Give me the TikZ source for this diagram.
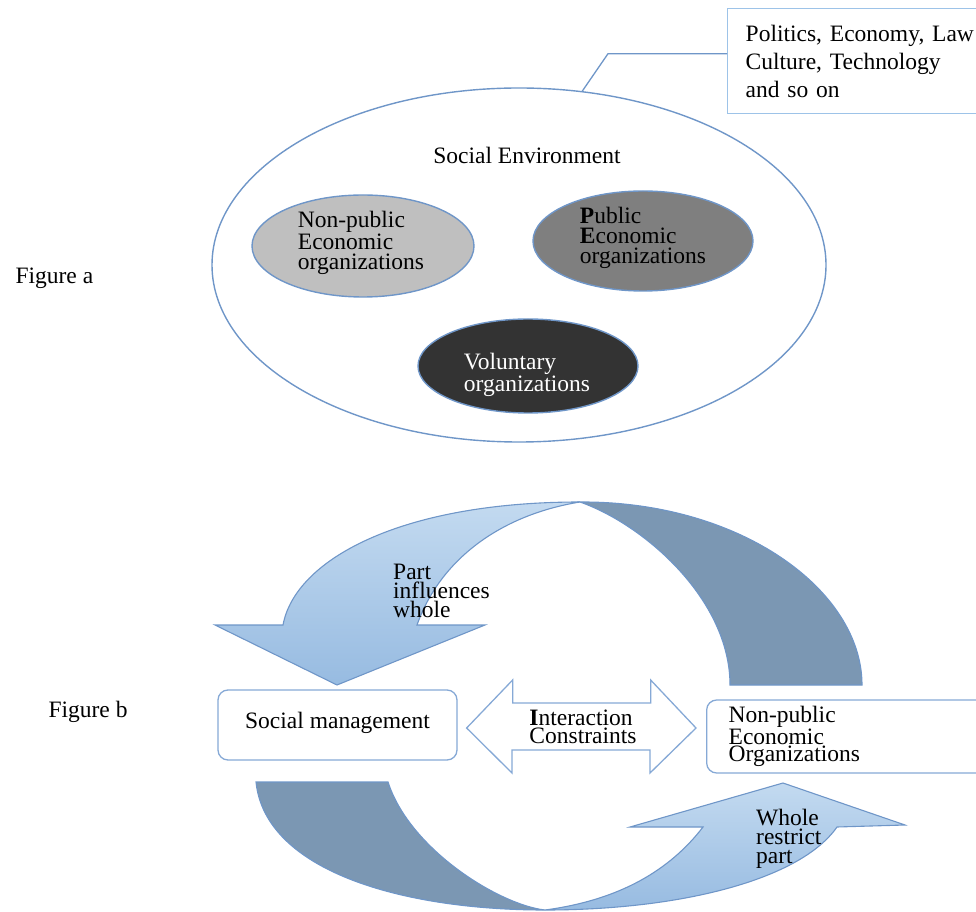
\documentclass[tikz,border=0pt]{standalone}
\usepackage{fontspec}
\setmainfont{Liberation Serif}
\usetikzlibrary{shapes.geometric}

\definecolor{rim}{HTML}{6F96C8}
\definecolor{boxrim}{HTML}{86A9D6}
\definecolor{callrim}{HTML}{9DC3E8}
\definecolor{ribbonlight}{HTML}{C3DAF0}
\definecolor{ribbonmid}{HTML}{97BBE1}
\definecolor{ribbondark}{HTML}{7B97B3}
\definecolor{orglight}{HTML}{BFBFBF}
\definecolor{orgmid}{HTML}{7F7F7F}
\definecolor{orgdark}{HTML}{333333}

\begin{document}
\begin{tikzpicture}[x=1pt,y=1pt,
  every node/.style={font=\fontsize{23.5}{28}\selectfont},
  org/.style={ellipse, draw=rim, line width=1.4pt, inner sep=0pt},
  orgtext/.style={align=left, font=\fontsize{23.5}{20}\selectfont, inner sep=0pt},
  tighttext/.style={align=left, font=\fontsize{23.5}{19}\selectfont, inner sep=0pt},
  roundbox/.style={draw=boxrim, line width=1.3pt, rounded corners=10pt, fill=white},
  ribbonfront/.style={draw=rim, line width=1.1pt, top color=ribbonlight, bottom color=ribbonmid},
  ribbonback/.style={draw=rim, line width=1.1pt, fill=ribbondark},
  dblarrow/.style={draw=boxrim, line width=1.3pt, fill=white, line join=miter},
]
\useasboundingbox (0,0) rectangle (976,911);

% ---------- Figure a: organizations inside the social environment ----------
\node[anchor=west] (figa) at (12,633) {Figure a};

\node[ellipse, draw=rim, line width=1.4pt, inner sep=0pt,
      minimum width=614pt, minimum height=354pt] (env) at (519,646) {};
\node (envtitle) at (527,756) {Social Environment};

\node[draw=callrim, line width=1.4pt, anchor=north west, minimum height=105pt,
      text width=236pt, inner xsep=18pt, align=left] (factors) at (727,903)
      {Politics, Economy, Law\\Culture, Technology\\and so on};
\draw[rim, line width=1.3pt] ([yshift=7.5pt]factors.west) -- ++(-119,0) -- (env.70);

\node[org, fill=orglight, minimum width=222pt, minimum height=102pt] (npe) at (363,665) {};
\node[orgtext] (npetext) at (361,668) {Non-public\\Economic\\organizations};

\node[org, fill=orgmid, minimum width=220pt, minimum height=100pt] (pe) at (643,670) {};
\node[orgtext] (petext) at (643,673) {\textbf{P}ublic\\\textbf{E}conomic\\organizations};

\node[org, fill=orgdark, minimum width=220pt, minimum height=94pt] (vol) at (528,545) {};
\node[orgtext, text=white] (voltext) at (527,536) {Voluntary\\organizations};

% ---------- Figure b: part and whole ----------
\node[anchor=west] (figb) at (45,199) {Figure b};

% upper curved arrow: back side first, then the front ribbon with its head
\draw[ribbonback] (580,409) .. controls (740,410) and (862,321) .. (862,226)
  -- (730,226) .. controls (730,311) and (645,386) .. (580,409) -- cycle;
\draw[ribbonfront] (283,286) .. controls (295,351) and (400,409) .. (580,409)
  .. controls (500,396) and (440,351) .. (417,286)
  -- (485,286) -- (337,226) -- (215,286) -- cycle;
\node[tighttext, anchor=west] (partlbl) at (393,320) {Part\\influences\\whole};

% lower curved arrow
\draw[ribbonback] (256,129) -- (388,129) .. controls (410,61) and (500,6) .. (545,1)
  .. controls (400,1) and (265,41) .. (256,129) -- cycle;
\draw[ribbonfront] (545,1) .. controls (680,1) and (800,31) .. (837,84)
  -- (905,86) -- (783,128) -- (630,84) -- (703,84)
  .. controls (670,41) and (620,11) .. (545,1) -- cycle;
\node[tighttext, anchor=west] (wholelbl) at (756,72) {Whole\\restrict\\part};

% the two parties
\node[roundbox, minimum width=239pt, minimum height=70pt, text height=16pt, text depth=10pt]
  (socmgmt) at (337.5,186) {Social management};
\node[roundbox, anchor=west, minimum height=73pt, text width=250pt, inner xsep=22pt,
      align=left, font=\fontsize{23.5}{17.5}\selectfont]
  (npeo) at (706,174.5) {Non-public\\Economic\\Organizations};

% two-headed arrow between them
\path (socmgmt.east) ++(9,-3) coordinate (ltip);
\path (npeo.west) ++(-10,8.5) coordinate (rtip);
\draw[dblarrow] (ltip) -- ++(46,48) -- ++(0,-23) -- ++(138,0) -- ++(0,23) -- (rtip)
  -- ++(-46,-45) -- ++(0,23) -- ++(-138,0) -- ++(0,-23) -- cycle;
\node[tighttext, font=\fontsize{23.5}{18}\selectfont] (interlbl) at (583,184)
  {\textbf{I}nteraction\\Constraints};
\end{tikzpicture}
\end{document}
